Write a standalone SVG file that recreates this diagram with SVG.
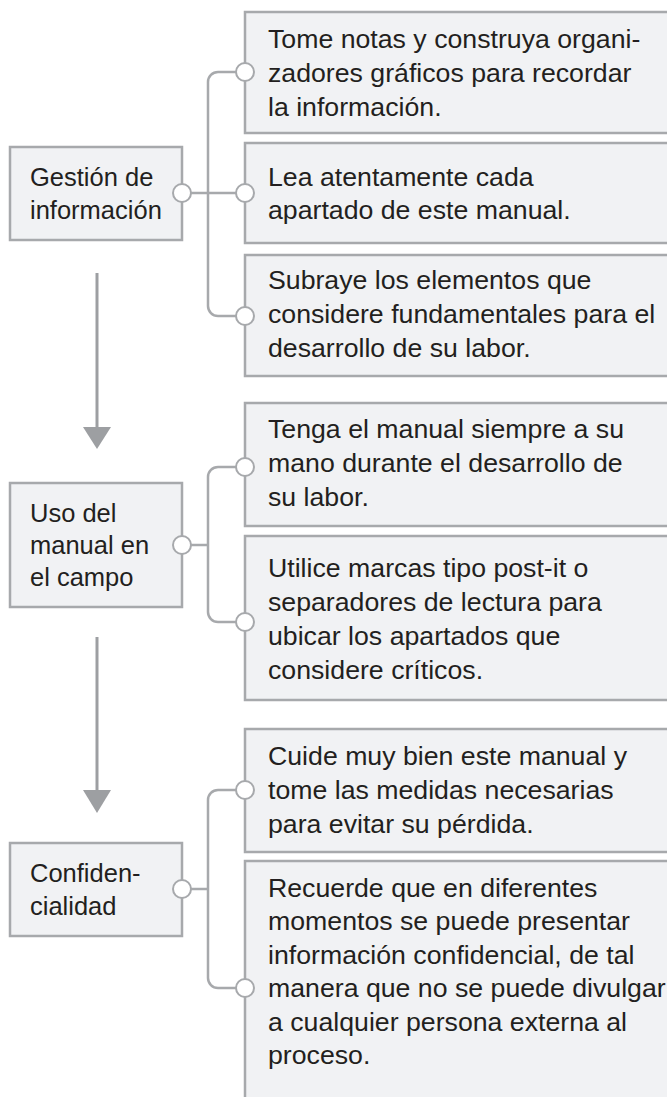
<svg xmlns="http://www.w3.org/2000/svg" width="667" height="1097" viewBox="0 0 667 1097">
<style>
.box{fill:#f1f2f4;stroke:#a7a9ac;stroke-width:2.5}
.t{font-family:"Liberation Sans",Arial,sans-serif;font-size:26.7px;fill:#231f20}
.tl{font-family:"Liberation Sans",Arial,sans-serif;font-size:25.5px;fill:#231f20}
.con{fill:none;stroke:#a7a9ac;stroke-width:2.5}
.dot{fill:#ffffff;stroke:#a7a9ac;stroke-width:2}
.arr{stroke:#9d9fa2;stroke-width:3;fill:none}
.head{fill:#9d9fa2}
</style>
<rect width="667" height="1097" fill="#ffffff"/>
<g id="arrows">
<line class="arr" x1="97" y1="273" x2="97" y2="430"/>
<polygon class="head" points="83,427 111,427 97,449"/>
<line class="arr" x1="97" y1="637" x2="97" y2="793"/>
<polygon class="head" points="83,790 111,790 97,813"/>
</g>
<g id="gestion">
<rect class="box" x="10" y="147" width="172" height="93"/>
<text class="tl" x="30" y="186">Gestión de</text>
<text class="tl" x="30" y="219">información</text>
</g>
<g id="uso">
<rect class="box" x="10" y="483" width="172" height="124"/>
<text class="tl" x="30" y="522">Uso del</text>
<text class="tl" x="30" y="554">manual en</text>
<text class="tl" x="30" y="586">el campo</text>
</g>
<g id="confid">
<rect class="box" x="10" y="843" width="172" height="93"/>
<text class="tl" x="30" y="882">Confiden-</text>
<text class="tl" x="30" y="915">cialidad</text>
</g>
<g id="b1">
<rect class="box" x="245" y="12" width="440" height="121"/>
<text class="t" x="268" y="48">Tome notas y construya organi-</text>
<text class="t" x="268" y="82">zadores gráficos para recordar</text>
<text class="t" x="268" y="116">la información.</text>
</g>
<g id="b2">
<rect class="box" x="245" y="143" width="440" height="100"/>
<text class="t" x="268" y="186">Lea atentamente cada</text>
<text class="t" x="268" y="219">apartado de este manual.</text>
</g>
<g id="b3">
<rect class="box" x="245" y="255" width="440" height="121"/>
<text class="t" x="268" y="289">Subraye los elementos que</text>
<text class="t" x="268" y="323">considere fundamentales para el</text>
<text class="t" x="268" y="357">desarrollo de su labor.</text>
</g>
<g id="b4">
<rect class="box" x="245" y="403" width="440" height="123"/>
<text class="t" x="268" y="438">Tenga el manual siempre a su</text>
<text class="t" x="268" y="472">mano durante el desarrollo de</text>
<text class="t" x="268" y="506">su labor.</text>
</g>
<g id="b5">
<rect class="box" x="245" y="536" width="440" height="164"/>
<text class="t" x="268" y="577">Utilice marcas tipo post-it o</text>
<text class="t" x="268" y="611">separadores de lectura para</text>
<text class="t" x="268" y="645">ubicar los apartados que</text>
<text class="t" x="268" y="679">considere críticos.</text>
</g>
<g id="b6">
<rect class="box" x="245" y="729" width="440" height="123"/>
<text class="t" x="268" y="765">Cuide muy bien este manual y</text>
<text class="t" x="268" y="799">tome las medidas necesarias</text>
<text class="t" x="268" y="833">para evitar su pérdida.</text>
</g>
<g id="b7">
<rect class="box" x="245" y="861" width="440" height="260"/>
<text class="t" x="268" y="897">Recuerde que en diferentes</text>
<text class="t" x="268" y="930">momentos se puede presentar</text>
<text class="t" x="268" y="964">información confidencial, de tal</text>
<text class="t" x="268" y="997">manera que no se puede divulgar</text>
<text class="t" x="268" y="1031">a cualquier persona externa al</text>
<text class="t" x="268" y="1064">proceso.</text>
</g>
<g id="connectors">
<path class="con" d="M236,72 H218 A10,10 0 0 0 208,82 V306 A10,10 0 0 0 218,316 H236"/>
<path class="con" d="M191,193 H236"/>
<path class="con" d="M236,467 H218 A10,10 0 0 0 208,477 V612 A10,10 0 0 0 218,622 H236"/>
<path class="con" d="M191,545 H208"/>
<path class="con" d="M236,790 H218 A10,10 0 0 0 208,800 V978 A10,10 0 0 0 218,988 H236"/>
<path class="con" d="M191,889 H208"/>
<circle class="dot" cx="182" cy="193" r="9"/>
<circle class="dot" cx="182" cy="545" r="9"/>
<circle class="dot" cx="182" cy="889" r="9"/>
<circle class="dot" cx="245" cy="72" r="9"/>
<circle class="dot" cx="245" cy="193" r="9"/>
<circle class="dot" cx="245" cy="316" r="9"/>
<circle class="dot" cx="245" cy="467" r="9"/>
<circle class="dot" cx="245" cy="622" r="9"/>
<circle class="dot" cx="245" cy="790" r="9"/>
<circle class="dot" cx="245" cy="988" r="9"/>
</g>
</svg>
